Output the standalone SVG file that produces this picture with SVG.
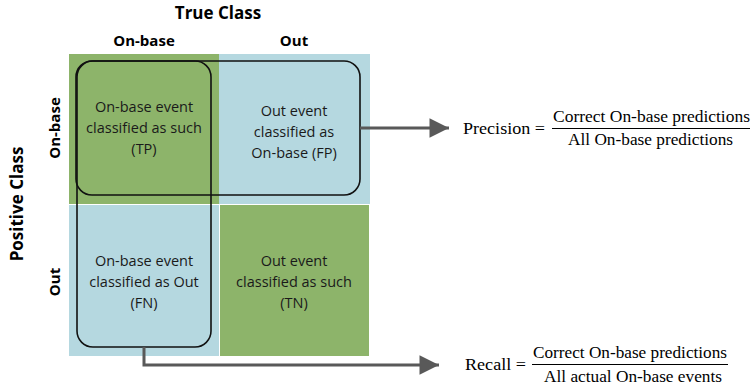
<svg xmlns="http://www.w3.org/2000/svg" width="753" height="387" viewBox="0 0 753 387">
<style>
.g{fill:#8db46a}.b{fill:#b5d8e0}
.t{font-family:"Open Sans","Liberation Sans",sans-serif;font-size:14.5px;fill:#1a1a1a;text-anchor:middle}
.h{font-family:"Open Sans","Liberation Sans",sans-serif;font-weight:bold;fill:#000;text-anchor:middle}
.f{font-family:"Liberation Serif","DejaVu Serif",serif;font-size:16.5px;fill:#000}
.c{fill:none;stroke:#595959;stroke-width:3}
.r{fill:none;stroke:#111;stroke-width:1.6}
</style>
<defs>
<marker id="ah" viewBox="0 0 10 10" refX="10" refY="5" markerWidth="7" markerHeight="6.5" markerUnits="strokeWidth" orient="auto"><path d="M0,0L10,5L0,10z" fill="#595959"/></marker>
</defs>
<g id="headers">
<text class="h" x="218" y="19" font-size="17">True Class</text>
<text class="h" x="144" y="46" font-size="15">On-base</text>
<text class="h" x="294" y="46" font-size="15">Out</text>
<text class="h" font-size="17" transform="translate(23,204) rotate(-90)">Positive Class</text>
<text class="h" font-size="15" transform="translate(60,128) rotate(-90)">On-base</text>
<text class="h" font-size="15" transform="translate(60,282) rotate(-90)">Out</text>
</g>
<g id="TP"><rect class="g" x="69" y="54" width="150" height="150"/>
<text class="t" x="144" y="112">On-base event</text><text class="t" x="144" y="133">classified as such</text><text class="t" x="144" y="154">(TP)</text></g>
<g id="FP"><rect class="b" x="219" y="54" width="151" height="150"/>
<text class="t" x="294" y="116">Out event</text><text class="t" x="294" y="137">classified as</text><text class="t" x="294" y="158">On-base (FP)</text></g>
<g id="FN"><rect class="b" x="69" y="205" width="150" height="151"/>
<text class="t" x="144" y="266">On-base event</text><text class="t" x="144" y="287">classified as Out</text><text class="t" x="144" y="308">(FN)</text></g>
<g id="TN"><rect class="g" x="220" y="205" width="149" height="151"/>
<text class="t" x="294" y="266">Out event</text><text class="t" x="294" y="287">classified as such</text><text class="t" x="294" y="308">(TN)</text></g>
<g id="groups">
<rect id="precision-group" class="r" x="76" y="61" width="284" height="134" rx="16"/>
<rect id="recall-group" class="r" x="77" y="61" width="134" height="286" rx="16"/>
</g>
<g id="connectors">
<path class="c" d="M360,128H449" marker-end="url(#ah)"/>
<path class="c" d="M144,347V365H439" marker-end="url(#ah)"/>
</g>
<g id="precision">
<text class="f" x="463" y="134" textLength="82" lengthAdjust="spacingAndGlyphs">Precision =</text>
<text class="f" x="553" y="122" textLength="197" lengthAdjust="spacingAndGlyphs">Correct On-base predictions</text>
<line x1="552" y1="128.5" x2="750" y2="128.5" stroke="#000" stroke-width="1"/>
<text class="f" x="568" y="145" textLength="165" lengthAdjust="spacingAndGlyphs">All On-base predictions</text>
</g>
<g id="recall">
<text class="f" x="465" y="370" textLength="61" lengthAdjust="spacingAndGlyphs">Recall =</text>
<text class="f" x="533" y="358" textLength="194" lengthAdjust="spacingAndGlyphs">Correct On-base predictions</text>
<line x1="532" y1="364.5" x2="728" y2="364.5" stroke="#000" stroke-width="1"/>
<text class="f" x="544" y="382" textLength="178" lengthAdjust="spacingAndGlyphs">All actual On-base events</text>
</g>
</svg>
